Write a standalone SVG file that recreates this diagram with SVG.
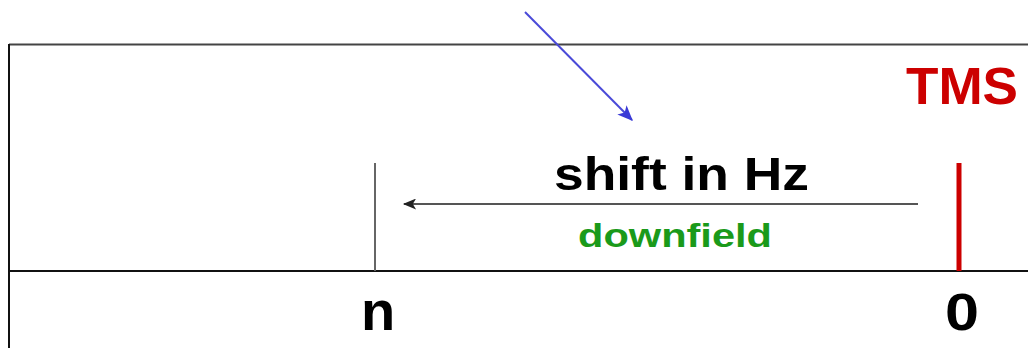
<svg xmlns="http://www.w3.org/2000/svg" width="1028" height="348" viewBox="0 0 1028 348">
<defs>
<style>
.lbl{font-family:"Liberation Sans",Arial,sans-serif;font-weight:bold}
</style>
<marker id="ahG" viewBox="0 0 12 10" refX="11" refY="5" markerWidth="15" markerHeight="11" markerUnits="userSpaceOnUse" orient="auto"><path d="M0,0 L12,5 L0,10 L3,5 Z" fill="#222"/></marker>
<marker id="ahB" viewBox="0 0 12 10" refX="11" refY="5" markerWidth="16" markerHeight="13" markerUnits="userSpaceOnUse" orient="auto"><path d="M0,0 L12,5 L0,10 L3,5 Z" fill="#3a3ad6"/></marker>
</defs>
<rect width="1028" height="348" fill="#fff"/>
<g id="frame">
<line x1="9" y1="44.5" x2="1028" y2="44.5" stroke="#444" stroke-width="2"/>
<line x1="9" y1="44" x2="9" y2="348" stroke="#111" stroke-width="2"/>
<line x1="9" y1="271" x2="1028" y2="271" stroke="#111" stroke-width="2"/>
</g>
<g id="peak-n">
<line x1="375" y1="163" x2="375" y2="271" stroke="#666" stroke-width="2"/>
<text class="lbl" x="361" y="330" font-size="56" fill="#000">n</text>
</g>
<g id="tms">
<line x1="959" y1="163" x2="959" y2="271" stroke="#cc0000" stroke-width="5"/>
<text class="lbl" x="906" y="104" font-size="52" fill="#cc0000" textLength="112" lengthAdjust="spacingAndGlyphs">TMS</text>
<text class="lbl" x="945" y="330" font-size="52" fill="#000" textLength="34" lengthAdjust="spacingAndGlyphs">0</text>
</g>
<g id="labels">
<text class="lbl" x="554" y="190" font-size="47" fill="#000" textLength="255" lengthAdjust="spacingAndGlyphs">shift in Hz</text>
<text class="lbl" x="578" y="247" font-size="34" fill="#1a9a1a" textLength="194" lengthAdjust="spacingAndGlyphs">downfield</text>
</g>
<g id="connectors">
<line x1="918" y1="204" x2="404" y2="204" stroke="#555" stroke-width="2" marker-end="url(#ahG)"/>
<line x1="525" y1="12" x2="632" y2="120" stroke="#4a4ad8" stroke-width="2" marker-end="url(#ahB)"/>
</g>
</svg>
